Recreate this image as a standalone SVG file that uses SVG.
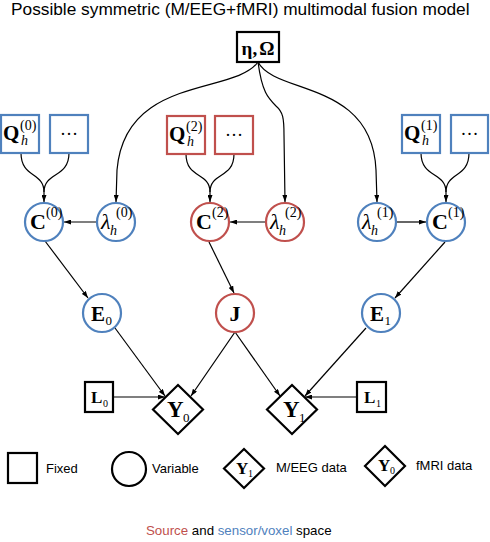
<svg xmlns="http://www.w3.org/2000/svg" width="490" height="542" viewBox="0 0 490 542">
<style>
.bl{fill:none;stroke:#4f81bd;stroke-width:2.2}
.rd{fill:none;stroke:#c0504d;stroke-width:2.2}
.bk{fill:none;stroke:#000;stroke-width:2.2}
.bf{fill:#fff;stroke:#4f81bd;stroke-width:2.2}
.rf{fill:#fff;stroke:#c0504d;stroke-width:2.2}
.kf{fill:#fff;stroke:#000;stroke-width:2.2}
.e{fill:none;stroke:#000;stroke-width:1.2}
.m{font-family:"Liberation Serif","Times New Roman",serif;fill:#000}
.b{font-weight:bold}
.i{font-style:italic}
.s{font-family:"Liberation Sans",Arial,sans-serif;fill:#000}
</style>
<defs>
<marker id="arr" viewBox="0 0 7 5" refX="7" refY="2.5" markerWidth="7" markerHeight="5" markerUnits="userSpaceOnUse" orient="auto"><path d="M0,0 L7,2.5 L0,5 z" fill="#000"/></marker>
</defs>
<text class="s" x="11" y="15" font-size="17.3">Possible symmetric (M/EEG+fMRI) multimodal fusion model</text>

<g id="connectors">
<path class="e" d="M258,62 C235,95 125,75 117,170 L116,202" marker-end="url(#arr)"/>
<path class="e" d="M258,62 C262,92 268,98 276,106 C283,112 284,118 284,135 L285,202" marker-end="url(#arr)"/>
<path class="e" d="M258,62 C275,95 372,80 376,170 L377,202" marker-end="url(#arr)"/>
<path class="e" d="M21,153 C21,178 44,172 44,192 L44,202" marker-end="url(#arr)"/>
<path class="e" d="M69,153 C69,178 44,172 44,192"/>
<path class="e" d="M186,154 C186,179 210,172 210,192 L210,202" marker-end="url(#arr)"/>
<path class="e" d="M234,154 C234,179 210,172 210,192"/>
<path class="e" d="M421,153 C421,178 446,172 446,192 L446,202" marker-end="url(#arr)"/>
<path class="e" d="M469,153 C469,178 446,172 446,192"/>
<path class="e" d="M97,222 L64,222" marker-end="url(#arr)"/>
<path class="e" d="M266,222 L230,222" marker-end="url(#arr)"/>
<path class="e" d="M397,222 L426,222" marker-end="url(#arr)"/>
<path class="e" d="M45,241 L88,298" marker-end="url(#arr)"/>
<path class="e" d="M209,242 L234,293" marker-end="url(#arr)"/>
<path class="e" d="M445,242 L395,298" marker-end="url(#arr)"/>
<path class="e" d="M115,328 L165,396" marker-end="url(#arr)"/>
<path class="e" d="M235,332 L191,396" marker-end="url(#arr)"/>
<path class="e" d="M235,332 L280,396" marker-end="url(#arr)"/>
<path class="e" d="M366,328 L305,396" marker-end="url(#arr)"/>
<path class="e" d="M113,397 L165,397" marker-end="url(#arr)"/>
<path class="e" d="M357,397 L305,397" marker-end="url(#arr)"/>
</g>

<g id="etaOmega">
<rect class="kf" x="237" y="32" width="42" height="30"/>
<text class="m b" x="258" y="55" font-size="19" text-anchor="middle">η,<tspan dx="2">Ω</tspan></text>
</g>

<g id="Q0">
<rect class="bf" x="1" y="115" width="38" height="38"/>
<text class="m b" x="3" y="140" font-size="21">Q</text>
<text class="m" x="20" y="130" font-size="14">(0)</text>
<text class="m i" x="21" y="145" font-size="14">h</text>
</g>
<g id="dots0">
<rect class="bf" x="50" y="115" width="38" height="38"/>
<text class="m" x="69" y="135" font-size="18" text-anchor="middle">…</text>
</g>
<g id="Q2">
<rect class="rf" x="167" y="116" width="38" height="38"/>
<text class="m b" x="169" y="141" font-size="21">Q</text>
<text class="m" x="186" y="131" font-size="14">(2)</text>
<text class="m i" x="187" y="146" font-size="14">h</text>
</g>
<g id="dots2">
<rect class="rf" x="215" y="116" width="38" height="38"/>
<text class="m" x="234" y="136" font-size="18" text-anchor="middle">…</text>
</g>
<g id="Q1">
<rect class="bf" x="402" y="115" width="38" height="38"/>
<text class="m b" x="404" y="140" font-size="21">Q</text>
<text class="m" x="421" y="130" font-size="14">(1)</text>
<text class="m i" x="422" y="145" font-size="14">h</text>
</g>
<g id="dots1">
<rect class="bf" x="451" y="115" width="37" height="38"/>
<text class="m" x="469.5" y="135" font-size="18" text-anchor="middle">…</text>
</g>

<g id="C0">
<circle class="bf" cx="44" cy="222" r="19"/>
<text class="m b" x="30" y="229" font-size="22">C</text>
<text class="m" x="46" y="217" font-size="14">(0)</text>
</g>
<g id="lambda0">
<circle class="bf" cx="116" cy="222" r="19"/>
<text class="m i" x="101" y="229" font-size="22">λ</text>
<text class="m i" x="110" y="235" font-size="14">h</text>
<text class="m" x="116" y="217" font-size="14">(0)</text>
</g>
<g id="C2">
<circle class="rf" cx="210" cy="222" r="19"/>
<text class="m b" x="196" y="229" font-size="22">C</text>
<text class="m" x="212" y="217" font-size="14">(2)</text>
</g>
<g id="lambda2">
<circle class="rf" cx="285" cy="222" r="19"/>
<text class="m i" x="270" y="229" font-size="22">λ</text>
<text class="m i" x="279" y="235" font-size="14">h</text>
<text class="m" x="285" y="217" font-size="14">(2)</text>
</g>
<g id="lambda1">
<circle class="bf" cx="377" cy="222" r="19"/>
<text class="m i" x="362" y="229" font-size="22">λ</text>
<text class="m i" x="371" y="235" font-size="14">h</text>
<text class="m" x="377" y="217" font-size="14">(1)</text>
</g>
<g id="C1">
<circle class="bf" cx="446" cy="222" r="19"/>
<text class="m b" x="432" y="229" font-size="22">C</text>
<text class="m" x="448" y="217" font-size="14">(1)</text>
</g>

<g id="E0">
<circle class="bf" cx="102" cy="313" r="19"/>
<text class="m b" x="91" y="321" font-size="21">E</text>
<text class="m" x="105.5" y="325" font-size="13">0</text>
</g>
<g id="J">
<circle class="rf" cx="235" cy="313" r="19"/>
<text class="m b" x="235" y="321" font-size="22" text-anchor="middle">J</text>
</g>
<g id="E1">
<circle class="bf" cx="381" cy="313" r="19"/>
<text class="m b" x="370" y="321" font-size="21">E</text>
<text class="m" x="384.5" y="325" font-size="13">1</text>
</g>

<g id="L0">
<rect class="kf" x="85" y="382" width="28" height="30"/>
<text class="m b" x="91" y="403" font-size="17">L</text>
<text class="m" x="103" y="407" font-size="10">0</text>
</g>
<g id="Y0">
<path class="kf" d="M178,385 L203,409.5 L178,434 L153,409.5 Z"/>
<text class="m b" x="167" y="417" font-size="23">Y</text>
<text class="m" x="183" y="422" font-size="13">0</text>
</g>
<g id="Y1">
<path class="kf" d="M292,385 L317,409.5 L292,434 L267,409.5 Z"/>
<text class="m b" x="283" y="417" font-size="23">Y</text>
<text class="m" x="299" y="422" font-size="13">1</text>
</g>
<g id="L1">
<rect class="kf" x="357" y="382" width="29" height="30"/>
<text class="m b" x="364" y="403" font-size="17">L</text>
<text class="m" x="376" y="407" font-size="10">1</text>
</g>

<g id="legend">
<rect class="kf" x="8" y="453" width="29" height="30"/>
<text class="s" x="46" y="473" font-size="13">Fixed</text>
<circle class="kf" cx="129" cy="469" r="17"/>
<text class="s" x="152" y="473" font-size="13">Variable</text>
<path class="kf" d="M244,449 L264,468.5 L244,488 L224,468.5 Z"/>
<text class="m b" x="236" y="474" font-size="17">Y</text>
<text class="m" x="248" y="477" font-size="10">1</text>
<text class="s" x="276" y="472" font-size="13">M/EEG data</text>
<path class="kf" d="M385,446 L405,466 L385,486 L365,466 Z"/>
<text class="m b" x="378" y="471" font-size="17">Y</text>
<text class="m" x="390" y="474" font-size="10">0</text>
<text class="s" x="416" y="470" font-size="13">fMRI data</text>
</g>

<text class="s" x="146" y="535" font-size="13.3"><tspan fill="#c0504d">Source</tspan> and <tspan fill="#4f81bd">sensor/voxel</tspan> space</text>
</svg>
